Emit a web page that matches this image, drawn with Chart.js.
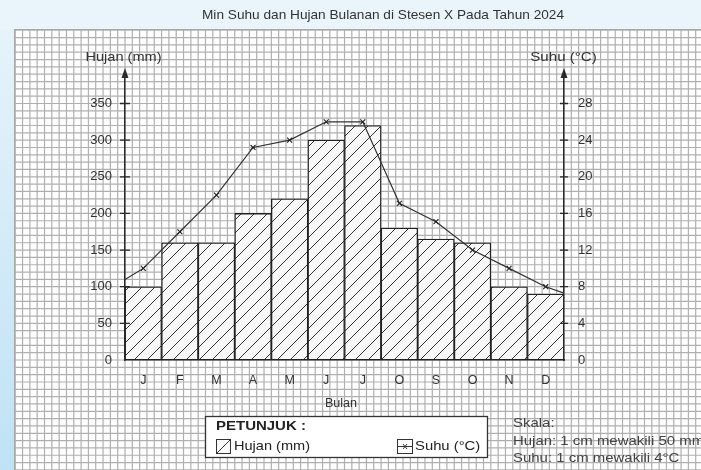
<!DOCTYPE html>
<html><head><meta charset="utf-8">
<script src="https://cdn.jsdelivr.net/npm/chart.js@4/dist/chart.umd.min.js"></script>
<style>
html,body{margin:0;padding:0;background:#e9f5fb;}
canvas{display:block;}
</style></head><body>
<canvas id="c" width="701" height="470"></canvas>
<script>
// ---- data ----
const months = ['J','F','M','A','M','J','J','O','S','O','N','D'];
const hujan = [100,160,160,200,220,300,320,180,165,160,100,90];
const suhu = [10,14,18,23.2,24,26,26,17.1,15.1,12,10,8];
const suhuEdges = [8.8, 7.3];           // where the temperature line meets the left / right axis
const hujanTicks = [0,50,100,150,200,250,300,350];
const suhuTicks = [0,4,8,12,16,20,24,28];
const hujanMax = 393;                    // top of the drawn axes (arrow)
const suhuMax = hujanMax * 4 / 50;       // 1 cm = 50 mm = 4 °C

const FONT = "'Liberation Sans', Arial, sans-serif";
const INK = '#2a2a2a';

// hatch pattern for the rainfall bars
const pc = document.createElement('canvas'); pc.width = 13; pc.height = 13;
const p = pc.getContext('2d');
p.fillStyle = '#f8f8f8'; p.fillRect(0,0,13,13);
p.strokeStyle = '#333'; p.lineWidth = 1;
p.beginPath();
p.moveTo(-1,14); p.lineTo(14,-1);
p.moveTo(-1,1); p.lineTo(1,-1);
p.moveTo(12,14); p.lineTo(14,12);
p.stroke();
const hatch = p.createPattern(pc, 'repeat');

function sText(ctx, txt, x, y, align, sx) {
  ctx.save();
  ctx.translate(x, y);
  ctx.scale(sx, 1);
  ctx.textAlign = align;
  ctx.fillText(txt, 0, 0);
  ctx.restore();
}

const paperPlugin = {
  id: 'paper',
  beforeDraw(chart) {
    const ctx = chart.ctx, W = chart.width, H = chart.height;
    const y = chart.scales.y, xl = chart.scales.xl;
    ctx.save();
    ctx.fillStyle = '#e9f5fb'; ctx.fillRect(0,0,W,H);
    const g = ctx.createLinearGradient(0,29,0,H);
    g.addColorStop(0,'#e6f3fa'); g.addColorStop(1,'#bfe2f6');
    ctx.fillStyle = g; ctx.fillRect(0,29,14,H-29);
    const left = 14, top = 29;
    ctx.fillStyle = '#ffffff'; ctx.fillRect(left, top, W-left, H-top);
    const cy = y.getPixelForValue(0) - y.getPixelForValue(10);
    const cx = (xl.getPixelForValue(1) - xl.getPixelForValue(0)) / 5;
    ctx.strokeStyle = '#b0b0b0'; ctx.lineWidth = 1.2;
    ctx.beginPath();
    const y0 = y.getPixelForValue(0);
    for (let k = -20; k < 80; k++) {
      const yy = y0 - k*cy;
      if (yy >= top && yy <= H) { ctx.moveTo(left, yy); ctx.lineTo(W, yy); }
    }
    const x0 = xl.getPixelForValue(0);
    for (let k = -30; k < 120; k++) {
      const xx = x0 + k*cx;
      if (xx >= left && xx <= W) { ctx.moveTo(xx, top); ctx.lineTo(xx, H); }
    }
    ctx.stroke();
    ctx.strokeStyle = '#a8a8a8'; ctx.lineWidth = 1;
    ctx.strokeRect(left+0.5, top+0.5, W-left, H-top);
    ctx.restore();
  },
  afterDraw(chart) {
    const ctx = chart.ctx;
    const y = chart.scales.y, y1 = chart.scales.y1;
    const a = chart.chartArea;
    ctx.save();
    ctx.strokeStyle = INK; ctx.fillStyle = INK; ctx.lineWidth = 1.3;
    // tick marks crossing the axes
    ctx.beginPath();
    hujanTicks.forEach(v => { if (v === 0) return; const py = y.getPixelForValue(v); ctx.moveTo(a.left-5, py); ctx.lineTo(a.left+5, py); });
    suhuTicks.forEach(v => { if (v === 0) return; const py = y1.getPixelForValue(v); ctx.moveTo(a.right-4, py); ctx.lineTo(a.right+4, py); });
    ctx.stroke();
    // arrow heads
    [a.left, a.right].forEach(x => {
      ctx.beginPath(); ctx.moveTo(x, a.top-4); ctx.lineTo(x-3.5, a.top+6); ctx.lineTo(x+3.5, a.top+6); ctx.closePath(); ctx.fill();
    });
    // texts
    ctx.fillStyle = '#333';
    ctx.textBaseline = 'middle';
    ctx.font = '13px ' + FONT;
    sText(ctx, 'Min Suhu dan Hujan Bulanan di Stesen X Pada Tahun 2024', 383, 15, 'center', 1.05);
    sText(ctx, 'Hujan (mm)', 123.5, 57, 'center', 1.12);
    sText(ctx, 'Suhu (\u00B0C)', 563.5, 57, 'center', 1.16);
    ctx.font = '12px ' + FONT;
    sText(ctx, 'Bulan', 341, 404, 'center', 1.05);
    // legend box
    ctx.fillStyle = '#ffffff';
    ctx.fillRect(205, 416, 282, 41);
    ctx.strokeStyle = '#333'; ctx.lineWidth = 1.3;
    ctx.strokeRect(205.5, 416.5, 282, 41);
    ctx.fillStyle = '#222';
    ctx.font = 'bold 13.5px ' + FONT;
    sText(ctx, 'PETUNJUK :', 216, 426, 'left', 1.11);
    ctx.font = '13px ' + FONT;
    sText(ctx, 'Hujan (mm)', 234, 446, 'left', 1.12);
    sText(ctx, 'Suhu (\u00B0C)', 415, 446, 'left', 1.14);
    ctx.lineWidth = 1;
    ctx.strokeRect(216.5, 439.5, 14, 14);
    ctx.beginPath(); ctx.moveTo(217, 453); ctx.lineTo(230, 440); ctx.stroke();
    ctx.strokeRect(397.5, 439.5, 15, 14);
    ctx.beginPath(); ctx.moveTo(398, 446.5); ctx.lineTo(412, 446.5);
    ctx.moveTo(403, 444); ctx.lineTo(407, 449); ctx.moveTo(403, 449); ctx.lineTo(407, 444);
    ctx.stroke();
    // scale notes
    ctx.fillStyle = '#444';
    ctx.font = '13px ' + FONT;
    sText(ctx, 'Skala:', 513, 423, 'left', 1.15);
    sText(ctx, 'Hujan: 1 cm mewakili 50 mm', 513, 441, 'left', 1.15);
    sText(ctx, 'Suhu: 1 cm mewakili 4\u00B0C', 513, 458, 'left', 1.15);
    ctx.restore();
  }
};

const lineData = [{x:0, y:suhuEdges[0]}]
  .concat(suhu.map((v,i) => ({x:i+0.5, y:v})))
  .concat([{x:12, y:suhuEdges[1]}]);

new Chart(document.getElementById('c'), {
  data: {
    labels: months,
    datasets: [
      {
        type: 'line', label: 'Suhu (\u00B0C)', data: lineData,
        xAxisID: 'xl', yAxisID: 'y1', order: 0,
        borderColor: '#333', borderWidth: 1.2, tension: 0, fill: false,
        pointStyle: 'crossRot',
        pointRadius: c => (c.dataIndex === 0 || c.dataIndex === lineData.length-1) ? 0 : 3.5,
        pointBorderColor: '#222', pointBorderWidth: 1.1,
        clip: false
      },
      {
        type: 'bar', label: 'Hujan (mm)', data: hujan,
        xAxisID: 'x', yAxisID: 'y', order: 1, grouped: false,
        backgroundColor: hatch, borderColor: '#222', borderWidth: 1.3,
        borderSkipped: false, barPercentage: 1, categoryPercentage: 1
      }
    ]
  },
  options: {
    responsive: false, animation: false, devicePixelRatio: 1,
    layout: { padding: { top: 72, left: 0, right: 0, bottom: 0 } },
    plugins: { legend: { display: false }, title: { display: false }, tooltip: { enabled: false } },
    scales: {
      x: {
        type: 'category', position: 'bottom', offset: true,
        grid: { display: false, drawTicks: false },
        border: { display: true, color: INK, width: 1.5 },
        ticks: { padding: 13, color: '#333', font: { family: FONT, size: 12.5 } },
        afterFit: s => { s.height = 110; }
      },
      xl: { type: 'linear', display: false, min: 0, max: 12 },
      y: {
        type: 'linear', position: 'left', min: 0, max: hujanMax,
        afterBuildTicks: s => { s.ticks = hujanTicks.map(v => ({ value: v })); },
        grid: { display: false, drawTicks: false },
        border: { display: true, color: INK, width: 1.5 },
        ticks: { padding: 13, color: '#333', font: { family: FONT, size: 13 } },
        afterFit: s => { s.width = 125; }
      },
      y1: {
        type: 'linear', position: 'right', min: 0, max: suhuMax,
        afterBuildTicks: s => { s.ticks = suhuTicks.map(v => ({ value: v })); },
        grid: { display: false, drawTicks: false },
        border: { display: true, color: INK, width: 1.5 },
        ticks: { padding: 14, color: '#333', font: { family: FONT, size: 13 } },
        afterFit: s => { s.width = 137; }
      }
    }
  },
  plugins: [paperPlugin]
});
</script>
</body></html>
